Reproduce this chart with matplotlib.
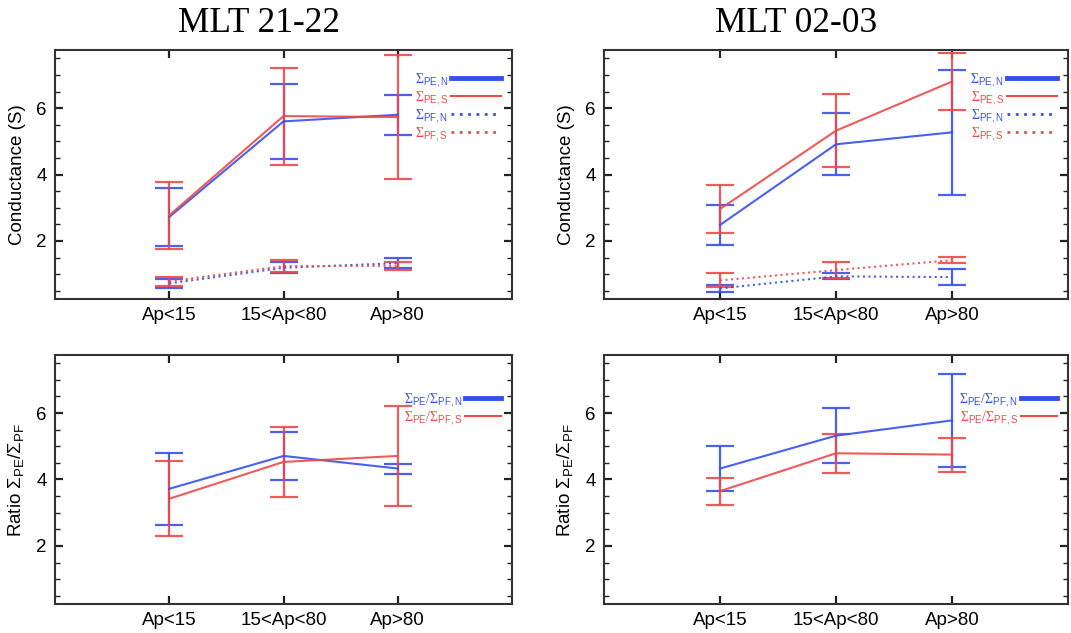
import numpy as np
import matplotlib
matplotlib.use('Agg')
import matplotlib.pyplot as plt
from matplotlib.lines import Line2D
from matplotlib.ticker import MultipleLocator

plt.rcParams['font.family'] = ['Liberation Sans', 'DejaVu Sans']
plt.rcParams['mathtext.fontset'] = 'custom'
plt.rcParams['mathtext.rm'] = 'Liberation Sans'
plt.rcParams['mathtext.it'] = 'Liberation Sans:italic'
plt.rcParams['mathtext.bf'] = 'Liberation Sans:bold'

BLUE = '#3450ee'
RED = '#ee4848'

categories = ['Ap<15', '15<Ap<80', 'Ap>80']
titles = ['MLT 21-22', 'MLT 02-03']

# Conductance, MLT 21-22
pe_n_2122 = [2.72, 5.60, 5.80]
pe_n_2122_err = [0.87, 1.12, 0.60]
pe_s_2122 = [2.77, 5.76, 5.73]
pe_s_2122_err = [1.00, 1.46, 1.87]
pf_n_2122 = [0.72, 1.19, 1.33]
pf_n_2122_err = [0.13, 0.16, 0.16]
pf_s_2122 = [0.78, 1.24, 1.25]
pf_s_2122_err = [0.14, 0.17, 0.12]

# Conductance, MLT 02-03
pe_n_0203 = [2.48, 4.91, 5.27]
pe_n_0203_err = [0.59, 0.94, 1.89]
pe_s_0203 = [2.96, 5.32, 6.80]
pe_s_0203_err = [0.72, 1.10, 0.85]
pf_n_0203 = [0.57, 0.93, 0.91]
pf_n_0203_err = [0.10, 0.09, 0.25]
pf_s_0203 = [0.81, 1.12, 1.42]
pf_s_0203_err = [0.21, 0.25, 0.10]

# Ratio PE/PF
ratio_n_2122 = [3.72, 4.71, 4.33]
ratio_n_2122_err = [1.08, 0.72, 0.15]
ratio_s_2122 = [3.42, 4.53, 4.71]
ratio_s_2122_err = [1.13, 1.06, 1.51]
ratio_n_0203 = [4.33, 5.32, 5.78]
ratio_n_0203_err = [0.69, 0.82, 1.41]
ratio_s_0203 = [3.65, 4.79, 4.75]
ratio_s_0203_err = [0.41, 0.58, 0.51]


def style_axes(ax):
    ax.set_xlim(0, 4)
    ax.set_ylim(0.25, 7.75)
    ax.set_xticks([1, 2, 3])
    ax.set_xticklabels(categories)
    ax.yaxis.set_major_locator(MultipleLocator(2))
    ax.yaxis.set_minor_locator(MultipleLocator(0.5))
    ax.tick_params(which='both', direction='in', top=True, right=True,
                   labelsize=13.5, color='#222222', pad=6)
    ax.tick_params(which='major', length=6, width=1.6)
    ax.tick_params(which='minor', length=3.5, width=1.0)
    ax.tick_params(axis='x', which='minor', length=0)
    for s in ax.spines.values():
        s.set_linewidth(1.5)
        s.set_color('#333333')


def errline(ax, x, y, e, color, ls='-'):
    ax.errorbar(x, y, yerr=e, color=color, ls=ls, lw=1.5, elinewidth=1.6,
                capsize=10, capthick=1.6, alpha=0.9)


fig = plt.figure(figsize=(10.71, 6.33), dpi=100)
W, H = 1071, 633
x = np.arange(1, 4)

top_axes = [
    fig.add_axes([55 / W, 1 - 299 / H, 457 / W, 249 / H]),
    fig.add_axes([604 / W, 1 - 299 / H, 464 / W, 249 / H]),
]
bot_axes = [
    fig.add_axes([55 / W, 1 - 604 / H, 457 / W, 249 / H]),
    fig.add_axes([604 / W, 1 - 604 / H, 464 / W, 249 / H]),
]

cond = [
    (pe_n_2122, pe_n_2122_err, pe_s_2122, pe_s_2122_err,
     pf_n_2122, pf_n_2122_err, pf_s_2122, pf_s_2122_err),
    (pe_n_0203, pe_n_0203_err, pe_s_0203, pe_s_0203_err,
     pf_n_0203, pf_n_0203_err, pf_s_0203, pf_s_0203_err),
]
ratio = [
    (ratio_n_2122, ratio_n_2122_err, ratio_s_2122, ratio_s_2122_err),
    (ratio_n_0203, ratio_n_0203_err, ratio_s_0203, ratio_s_0203_err),
]

leg_font = dict(family=['Liberation Serif', 'DejaVu Serif'], size=10)

for i, ax in enumerate(top_axes):
    pen, pene, pes, pese, pfn, pfne, pfs, pfse = cond[i]
    errline(ax, x, pfn, pfne, BLUE, ':')
    errline(ax, x, pfs, pfse, RED, ':')
    errline(ax, x, pen, pene, BLUE)
    errline(ax, x, pes, pese, RED)
    style_axes(ax)
    ax.set_ylabel('Conductance (S)', fontsize=13.5)
    ax.yaxis.set_label_coords(-29 / 457, 0.5)
    handles = [
        Line2D([], [], color=BLUE, lw=3.5),
        Line2D([], [], color=RED, lw=1.5),
        Line2D([], [], color=BLUE, lw=2, ls=(0, (1, 2))),
        Line2D([], [], color=RED, lw=2, ls=(0, (1, 2))),
    ]
    labels = ['Σ$_{\\rm PE,N}$', 'Σ$_{\\rm PE,S}$', 'Σ$_{\\rm PF,N}$', 'Σ$_{\\rm PF,S}$']
    ax.legend(handles, labels, loc='upper right', bbox_to_anchor=(0.976, 0.915),
              frameon=False, markerfirst=False, prop=leg_font, labelcolor=[BLUE, RED, BLUE, RED],
              handlelength=3.6, handletextpad=0.2, labelspacing=0.0,
              borderpad=0, borderaxespad=0)
    fig.text([259 / W, 796 / W][i], 1 - 23 / H, titles[i], ha='center', va='center',
             fontsize=25.5, family=['Liberation Serif', 'DejaVu Serif'])

for i, ax in enumerate(bot_axes):
    rn, rne, rs, rse = ratio[i]
    errline(ax, x, rn, rne, BLUE)
    errline(ax, x, rs, rse, RED)
    style_axes(ax)
    ax.set_ylabel('Ratio $\\Sigma_{\\rm PE}/\\Sigma_{\\rm PF}$', fontsize=13.5)
    ax.yaxis.set_label_coords(-29 / 457, 0.5)
    handles = [
        Line2D([], [], color=BLUE, lw=3.5),
        Line2D([], [], color=RED, lw=1.5),
    ]
    labels = ['Σ$_{\\rm PE}$/Σ$_{\\rm PF,N}$', 'Σ$_{\\rm PE}$/Σ$_{\\rm PF,S}$']
    ax.legend(handles, labels, loc='upper right', bbox_to_anchor=(0.976, 0.855),
              frameon=False, markerfirst=False, prop=leg_font, labelcolor=[BLUE, RED],
              handlelength=2.6, handletextpad=0.2, labelspacing=0.0,
              borderpad=0, borderaxespad=0)

fig.savefig('out.png', dpi=100)
